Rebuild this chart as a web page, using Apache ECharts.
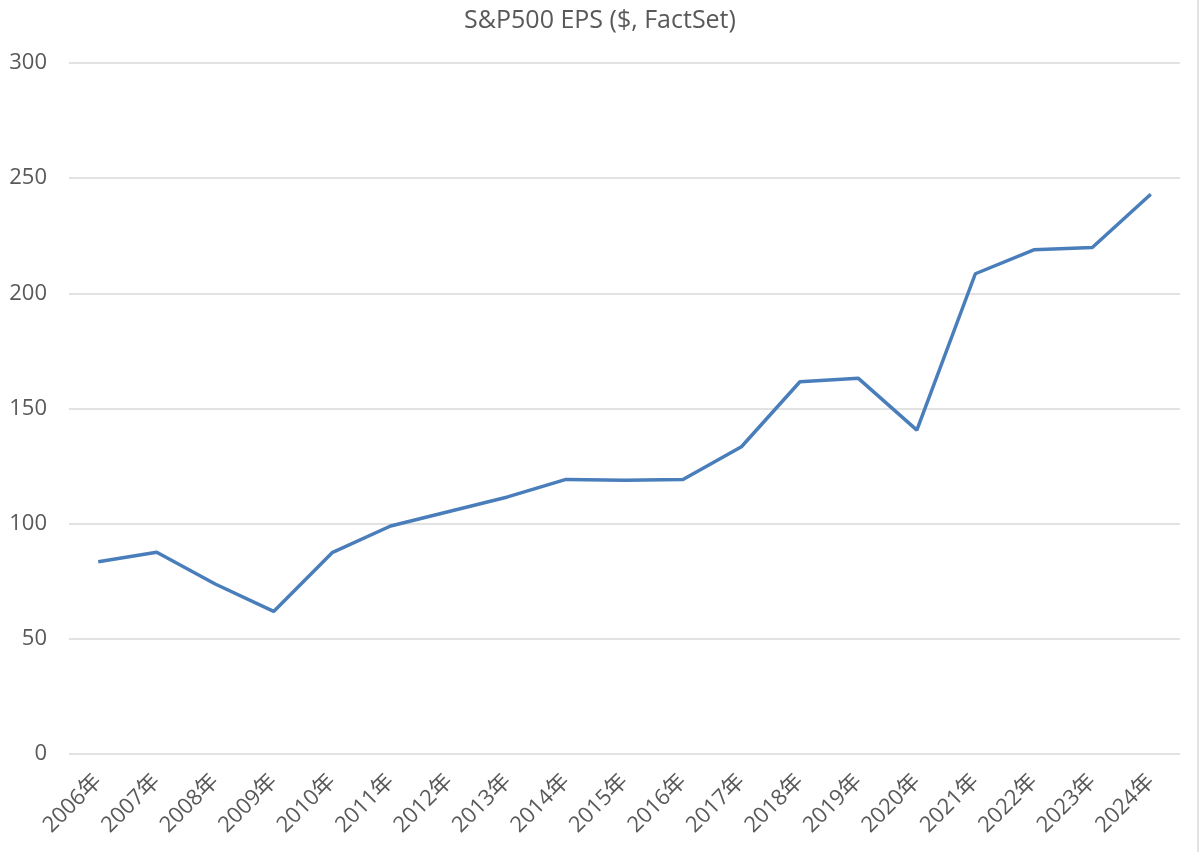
<!DOCTYPE html>
<html>
<head>
<meta charset="utf-8">
<script src="https://cdn.jsdelivr.net/npm/echarts@6/dist/echarts.min.js"></script>
<style>
html,body{margin:0;padding:0;background:#fff;}
#main{width:1200px;height:852px;}
</style>
</head>
<body>
<div id="main"></div>
<script>
const titleText = 'S&P500 EPS ($, FactSet)';
const categories = ['2006年','2007年','2008年','2009年','2010年','2011年','2012年','2013年','2014年','2015年','2016年','2017年','2018年','2019年','2020年','2021年','2022年','2023年','2024年'];
const epsValues = [83.5, 87.6, 73.8, 61.9, 87.4, 99.0, 105.3, 111.6, 119.2, 118.9, 119.2, 133.4, 161.6, 163.1, 140.6, 208.5, 218.9, 219.9, 243.0];
const yTicks = {min: 0, max: 300, interval: 50};

const chart = echarts.init(document.getElementById('main'));
chart.setOption({
  animation: false,
  backgroundColor: '#ffffff',
  title: {
    text: titleText,
    left: 'center',
    top: 3,
    textStyle: {fontFamily: 'Open Sans', fontSize: 25, fontWeight: 'normal', color: '#595959'}
  },
  graphic: [{
    type: 'rect',
    shape: {x: 1197, y: 0, width: 2, height: 852},
    style: {fill: '#e3e3e3'},
    silent: true
  }],
  grid: {left: 69, right: 20, top: 63, bottom: 98, containLabel: false},
  xAxis: {
    type: 'category',
    data: categories,
    boundaryGap: true,
    axisLine: {show: false},
    axisTick: {show: false},
    axisLabel: {
      rotate: 45,
      interval: 0,
      margin: 24,
      fontFamily: 'Open Sans, Noto Sans CJK JP',
      fontSize: 22,
      color: '#595959'
    }
  },
  yAxis: {
    type: 'value',
    min: yTicks.min,
    max: yTicks.max,
    interval: yTicks.interval,
    axisLine: {show: false},
    axisTick: {show: false},
    splitLine: {lineStyle: {color: '#d9d9d9', width: 1.5}},
    axisLabel: {
      margin: 22,
      fontFamily: 'Open Sans',
      fontSize: 22,
      color: '#595959'
    }
  },
  series: [{
    type: 'line',
    data: epsValues,
    symbol: 'none',
    lineStyle: {color: '#4a7ebb', width: 3.5},
    itemStyle: {color: '#4a7ebb'}
  }]
});
</script>
</body>
</html>
